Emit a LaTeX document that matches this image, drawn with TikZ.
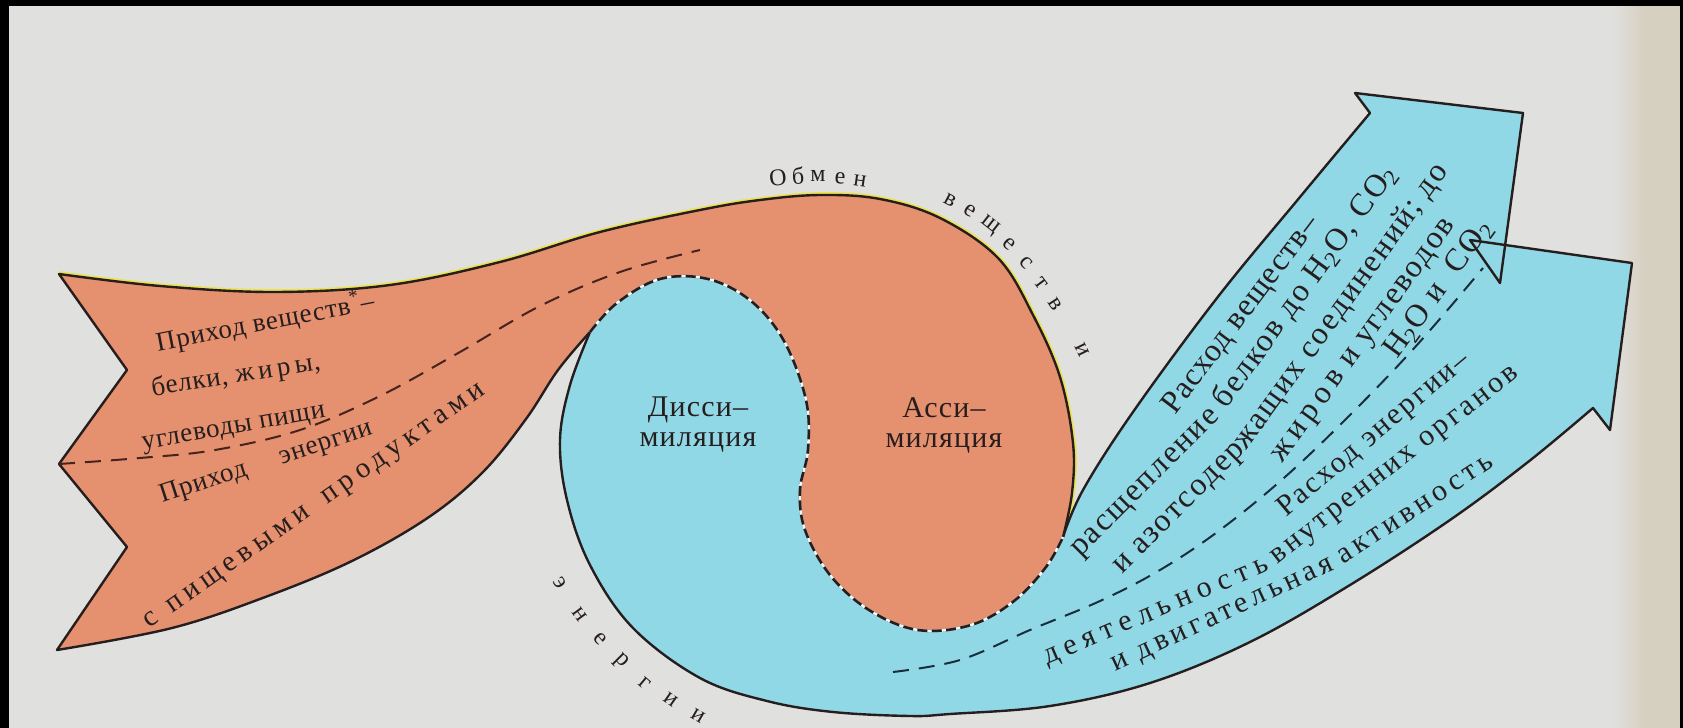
\documentclass[tikz,border=0pt]{standalone}
\usepackage{fontspec}
\setmainfont{Liberation Serif}
\newfontfamily\lk[LetterSpace=3]{Liberation Serif}
\newfontfamily\lkw[LetterSpace=18]{Liberation Serif}
\newfontfamily\rk[LetterSpace=6]{Liberation Serif}
\newfontfamily\dk[LetterSpace=4]{Liberation Serif}
\newfontfamily\ak[LetterSpace=0]{Liberation Serif}
\definecolor{bgc}{RGB}{224,224,222}
\definecolor{orc}{RGB}{229,144,110}
\definecolor{blc}{RGB}{144,216,230}
\definecolor{inkc}{RGB}{38,30,30}
\definecolor{yelc}{RGB}{236,226,80}
\definecolor{stripc}{RGB}{214,208,192}
\definecolor{dashb}{RGB}{25,45,60}
\definecolor{dasho}{RGB}{70,35,30}
\begin{document}
\begin{tikzpicture}[x=0.5pt,y=-0.5pt,
  outl/.style={draw=inkc, line width=1.2pt, line join=round},
  ltxt/.style={text=inkc, inner sep=0pt, font=\lk\fontsize{13.5}{16}\selectfont},
  rtxt/.style={text=inkc, inner sep=0pt, anchor=base west, font=\rk\fontsize{16}{19}\selectfont},
  etxt/.style={rtxt, font=\rk\fontsize{15}{18}\selectfont},
  lbl/.style={text=inkc, inner sep=0pt, align=center, font=\dk\fontsize{15}{15}\selectfont},
  arcl/.style={text=inkc, inner sep=0pt, font=\ak\fontsize{12}{14}\selectfont},
  odash/.style={draw=dasho, line width=1pt, dash pattern=on 8pt off 5pt},
  bdash/.style={draw=dashb, line width=1pt, dash pattern=on 8pt off 5pt}]
\useasboundingbox (0,0) rectangle (1683,728);
% background and frame
\fill[bgc] (0,0) rectangle (1683,728);
\shade[left color=bgc, right color=stripc] (1612,0) rectangle (1645,728);
\fill[stripc] (1645,0) rectangle (1680,728);
\fill[black] (0,0) rectangle (1683,6);
\fill[black] (0,0) rectangle (9,728);
\fill[black] (1680,0) rectangle (1683,728);
% yellow rim of the top edge
\draw[yelc, line width=2.8pt] plot[smooth,tension=0.6] coordinates {(59,274) (160,286) (275,292) (390,285) (500,262) (600,232) (700,210) (760,200) (820,195) (880,199) (940,218) (998,258) (1033,315) (1060,377) (1073,443) (1072,493) (1063,537)};
% blue shape (disk and outgoing arrows)
\path[fill=blc, outl] (590,332) -- (598,300) -- (650,262) -- (760,255) -- (850,330) -- (880,560) -- (1010,560) -- (1063,537)
  -- plot[smooth,tension=0.6] coordinates {(1063,537) (1083,490) (1133,412) (1217,298) (1300,197) (1370,113)}
  -- (1355,93) -- (1523,113) -- (1500,283) -- (1470,240) -- (1632,263) -- (1610,430) -- (1593,408)
  -- plot[smooth,tension=0.6] coordinates {(1593,408) (1528,462) (1450,520) (1350,585) (1250,642) (1150,683) (1050,706) (950,714) (910,716) (833,712) (767,701) (700,678) (633,628) (590,565) (567,500) (560,440) (570,385) (590,332)}
  -- cycle;
% orange shape (incoming arrow and comma)
\path[fill=orc, outl] (59,274) -- plot[smooth,tension=0.6] coordinates {(59,274) (160,286) (275,292) (390,285) (500,262) (600,232) (700,210) (760,200) (820,195) (880,199) (940,218) (998,258) (1033,315) (1060,377) (1073,443) (1072,493) (1063,537)}
  -- plot[smooth,tension=0.6] coordinates {(1063,537) (1046,567) (1014,601) (971,625) (918,630) (869,610) (830,575) (805,530) (800,490) (808,450) (806,400) (784,341) (751,301) (708,279) (660,279) (617,303) (590,332)}
  -- plot[smooth,tension=0.6] coordinates {(590,332) (558,370) (526,419) (483,472) (429,517) (354,560) (268,596) (172,628) (57,650)}
  -- (127,547) -- (59,464) -- (127,370) -- cycle;
% dashed boundary between assimilation and dissimilation
\draw[white!85!blc, line width=1.3pt] plot[smooth,tension=0.6] coordinates {(590,332) (617,303) (660,279) (708,279) (751,301) (784,341) (806,400) (808,450) (800,490) (805,530) (830,575) (869,610) (918,630) (971,625) (1014,601) (1046,567) (1063,537)};
\draw[inkc, line width=1.3pt, dash pattern=on 5pt off 2.2pt] plot[smooth,tension=0.6] coordinates {(590,332) (617,303) (660,279) (708,279) (751,301) (784,341) (806,400) (808,450) (800,490) (805,530) (830,575) (869,610) (918,630) (971,625) (1014,601) (1046,567) (1063,537)};
% dashed dividers in the arrows
\draw[odash] plot[smooth,tension=0.6] coordinates {(59,464) (140,458) (215,450) (300,430) (380,396) (460,352) (540,306) (620,272) (700,250)};
\draw[bdash] plot[smooth,tension=0.6] coordinates {(893,672) (960,660) (1030,630) (1100,601) (1160,570) (1220,530) (1285,477) (1350,415) (1417,345) (1483,268)};
% left arrow texts
\node[ltxt, rotate=11] (t1) at (265,322) {Приход веществ\textsuperscript{*}–};
\node[ltxt, rotate=9] (t2) at (236,376) {белки, ж\,и\,р\,ы,};
\node[ltxt, rotate=10] (t3) at (234,430) {углеводы пищи};
\node[ltxt, rotate=18] (t4) at (266,463) {Приход\hspace{1.3em}энергии};
\node[ltxt, rotate=35, font=\lkw\fontsize{14.5}{16}\selectfont] (t5) at (316,508) {с\hspace{.5em}пищевыми\hspace{.7em}продуктами};
% centre labels
\node[lbl] (dis) at (698,425) {Дисси–\\миляция};
\node[lbl] (ass) at (944,425) {Асси–\\миляция};
% right arrow: expenditure of substances
\node[rtxt, rotate=53] (r1) at (1175,416) {\addfontfeature{LetterSpace=3}Расход веществ–};
\node[rtxt, rotate=45] (r2a) at (1080,558) {расщепление};
\node[rtxt, rotate=54] (r2b) at (r2a.base east) {\hspace{.3em}белков до H\textsubscript{2}O, CO\textsubscript{2}};
\node[rtxt, rotate=45] (r3a) at (1122,575) {и азотсодер};
\node[rtxt, rotate=54] (r3b) at (r3a.base east) {жащих соединений; до};
\node[rtxt, rotate=54] (r4) at (1282,464) {ж\,и\,р\,о\,в и углеводов};
\node[rtxt, rotate=54] (r5) at (1397,360) {H\textsubscript{2}O и\hspace{.6em}CO\textsubscript{2}};
% right arrow: expenditure of energy
\node[etxt, rotate=40] (s1) at (1286,518) {\addfontfeature{LetterSpace=8}Расход энергии–};
\node[etxt, rotate=23] (s2a) at (1047,665) {\addfontfeature{LetterSpace=22}деятельность};
\node[etxt, rotate=38] (s2b) at (s2a.base east) {\addfontfeature{LetterSpace=10}\hspace{.3em}внутренних органов};
\node[etxt, rotate=25] (s3a) at (1115,672) {\addfontfeature{LetterSpace=14}и двигательная};
\node[etxt, rotate=33] (s3b) at (s3a.base east) {\addfontfeature{LetterSpace=14}\hspace{.3em}активность};
% letters set along the outline
\foreach \ch/\x/\y/\r [count=\i] in {О/778/178/6, б/798/176/3, м/818/176/0, е/840/178/-4, н/860/181/-8,
  в/950/200/-28, е/970/211/-33, щ/990/226/-38, е/1009/244/-43, с/1026/263/-48, т/1041/283/-53, в/1055/304/-57, и/1082/350/-64}
  \node[arcl, rotate=\r] (ob\i) at (\x,\y) {\ch};
\foreach \ch/\x/\y/\r [count=\i] in {э/560/583/-58, н/580/614/-54, е/600/639/-49, р/621/662/-45, г/645/683/-40, и/671/700/-35, и/698/716/-30}
  \node[arcl, rotate=\r] (en\i) at (\x,\y) {\ch};
\end{tikzpicture}
\end{document}
